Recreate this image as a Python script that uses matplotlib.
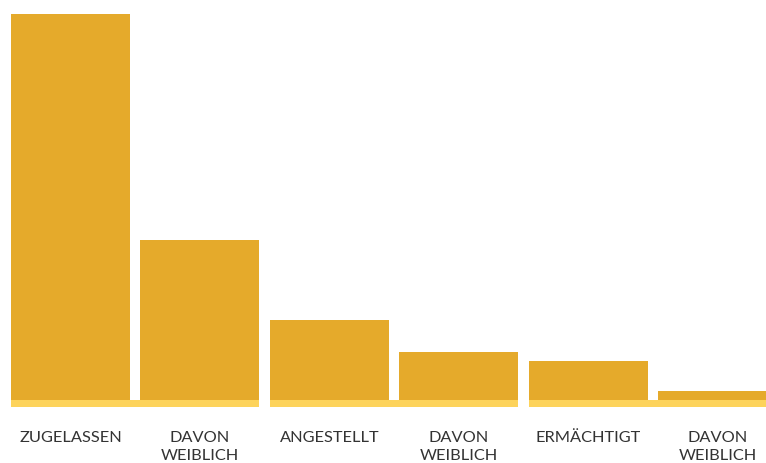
import matplotlib
matplotlib.use("Agg")
import matplotlib.pyplot as plt

# data
categories = ["ZUGELASSEN", "DAVON\nWEIBLICH", "ANGESTELLT", "DAVON\nWEIBLICH",
              "ERMÄCHTIGT", "DAVON\nWEIBLICH"]
values = [386, 160, 80, 48, 39, 9]
groups = [0.5, 2.5, 4.5]

bar_color = "#E5AA2B"
strip_color = "#FDD35B"
text_color = "#333333"

W, H = 766, 463
fig = plt.figure(figsize=(W / 100, H / 100), dpi=100)
# axes spans full width, baseline at y=400px from top
ax = fig.add_axes([0, (H - 410) / H, 1, 410 / H])
ax.set_xlim(-0.545, 5.375)
ax.set_ylim(-10, 400)
ax.axis("off")

x = list(range(len(values)))
ax.bar(x, values, width=0.92, color=bar_color, linewidth=0, zorder=2)
# light baseline strip below each pair of bars
ax.bar(groups, [6.5] * len(groups), bottom=-6.5, width=1.92,
       color=strip_color, linewidth=0, zorder=1)

for xi, lab in zip(x, categories):
    ax.text(xi, -31, lab, ha="center", va="top", fontsize=11.8,
            family="Lato", color=text_color, linespacing=1.38,
            clip_on=False)

fig.savefig("out.png", dpi=100)
